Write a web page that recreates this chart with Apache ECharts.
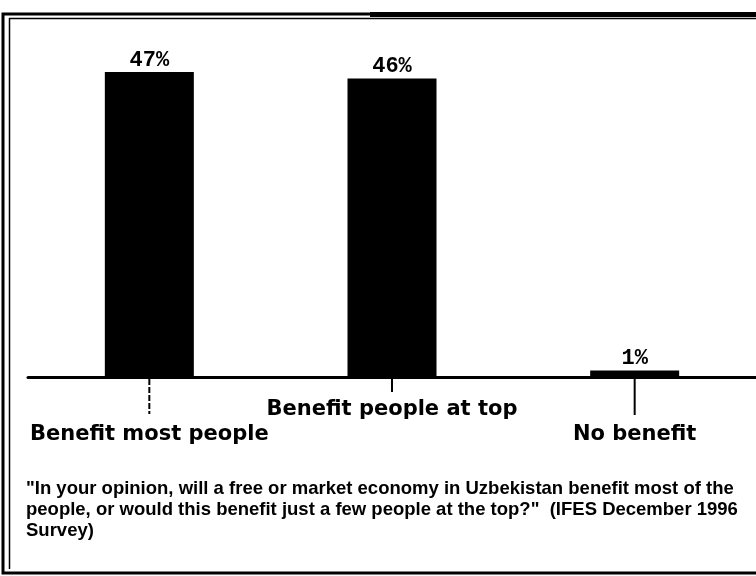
<!DOCTYPE html>
<html><head><meta charset="utf-8">
<script src="https://cdn.jsdelivr.net/npm/echarts@6/dist/echarts.min.js"></script>
<style>html,body{margin:0;padding:0;background:#fff}#c{width:756px;height:576px}</style>
</head><body><div id="c"></div>
<script>
const categories = ['Benefit most people', 'Benefit people at top', 'No benefit'];
const values = [47, 46, 1];
const valueLabels = ['47%', '46%', '1%'];
const question = ['"In your opinion, will a free or market economy in Uzbekistan benefit most of the',
  'people, or would this benefit just a few people at the top?"  (IFES December 1996',
  'Survey)'];

const tickLen = [35, 13, 36];
const chart = echarts.init(document.getElementById('c'));
chart.setOption({
  animation: false,
  backgroundColor: '#fff',
  grid: {left: 28, right: -1, top: 72, bottom: 199, containLabel: false},
  xAxis: {
    type: 'category', data: categories,
    axisLine: {show: true, onZero: true, lineStyle: {color: '#000', width: 3}},
    axisTick: {show: false},
    axisLabel: {
      interval: 0, margin: 0,
      formatter: (v, i) => i === 1 ? '{hi|' + v + '}' : '{lo|' + v + '}',
      rich: {
        hi: {fontFamily: 'DejaVu Sans', fontWeight: 'bold', fontSize: 21, color: '#000', padding: [22, 0, 0, 0]},
        lo: {fontFamily: 'DejaVu Sans', fontWeight: 'bold', fontSize: 21, color: '#000', padding: [47, 0, 0, 0]}
      }
    }
  },
  yAxis: {type: 'value', min: 0, max: 47, show: false, splitLine: {show: false}},
  series: [{
    type: 'bar', data: values, barWidth: 89,
    itemStyle: {color: '#000'},
    label: {show: true, position: 'top', distance: 1, color: '#000',
      fontFamily: 'Liberation Mono', fontWeight: 'bold', fontSize: 22,
      formatter: p => valueLabels[p.dataIndex]}
  }, {
    type: 'custom', data: categories.map((c, i) => [i, 0]),
    renderItem: (params, api) => {
      const p = api.coord([api.value(0), 0]);
      const i = params.dataIndex;
      return {type: 'line', shape: {x1: p[0], y1: p[1] + 2, x2: p[0], y2: p[1] + 2 + tickLen[i]},
        style: {stroke: '#000', lineWidth: 2, lineDash: i === 0 ? [6, 2] : null}};
    },
    z: 5
  }],
  graphic: [
    {type: 'rect', shape: {x: 3, y: 14, width: 760, height: 559}, style: {fill: null, stroke: '#000', lineWidth: 3}},
    {type: 'line', shape: {x1: 9.5, y1: 18, x2: 9.5, y2: 569}, style: {stroke: '#000', lineWidth: 1.5}},
    {type: 'line', shape: {x1: 9, y1: 18.5, x2: 760, y2: 18.5}, style: {stroke: '#000', lineWidth: 1.5}},
    {type: 'rect', shape: {x: 370, y: 12, width: 390, height: 5}, style: {fill: '#000'}},
    {type: 'text', left: 26, top: 478, style: {text: question.join('\n'), fontFamily: 'Liberation Sans', fontWeight: 'bold', fontSize: 18.5, lineHeight: 21, fill: '#000'}}
  ]
});
</script></body></html>
